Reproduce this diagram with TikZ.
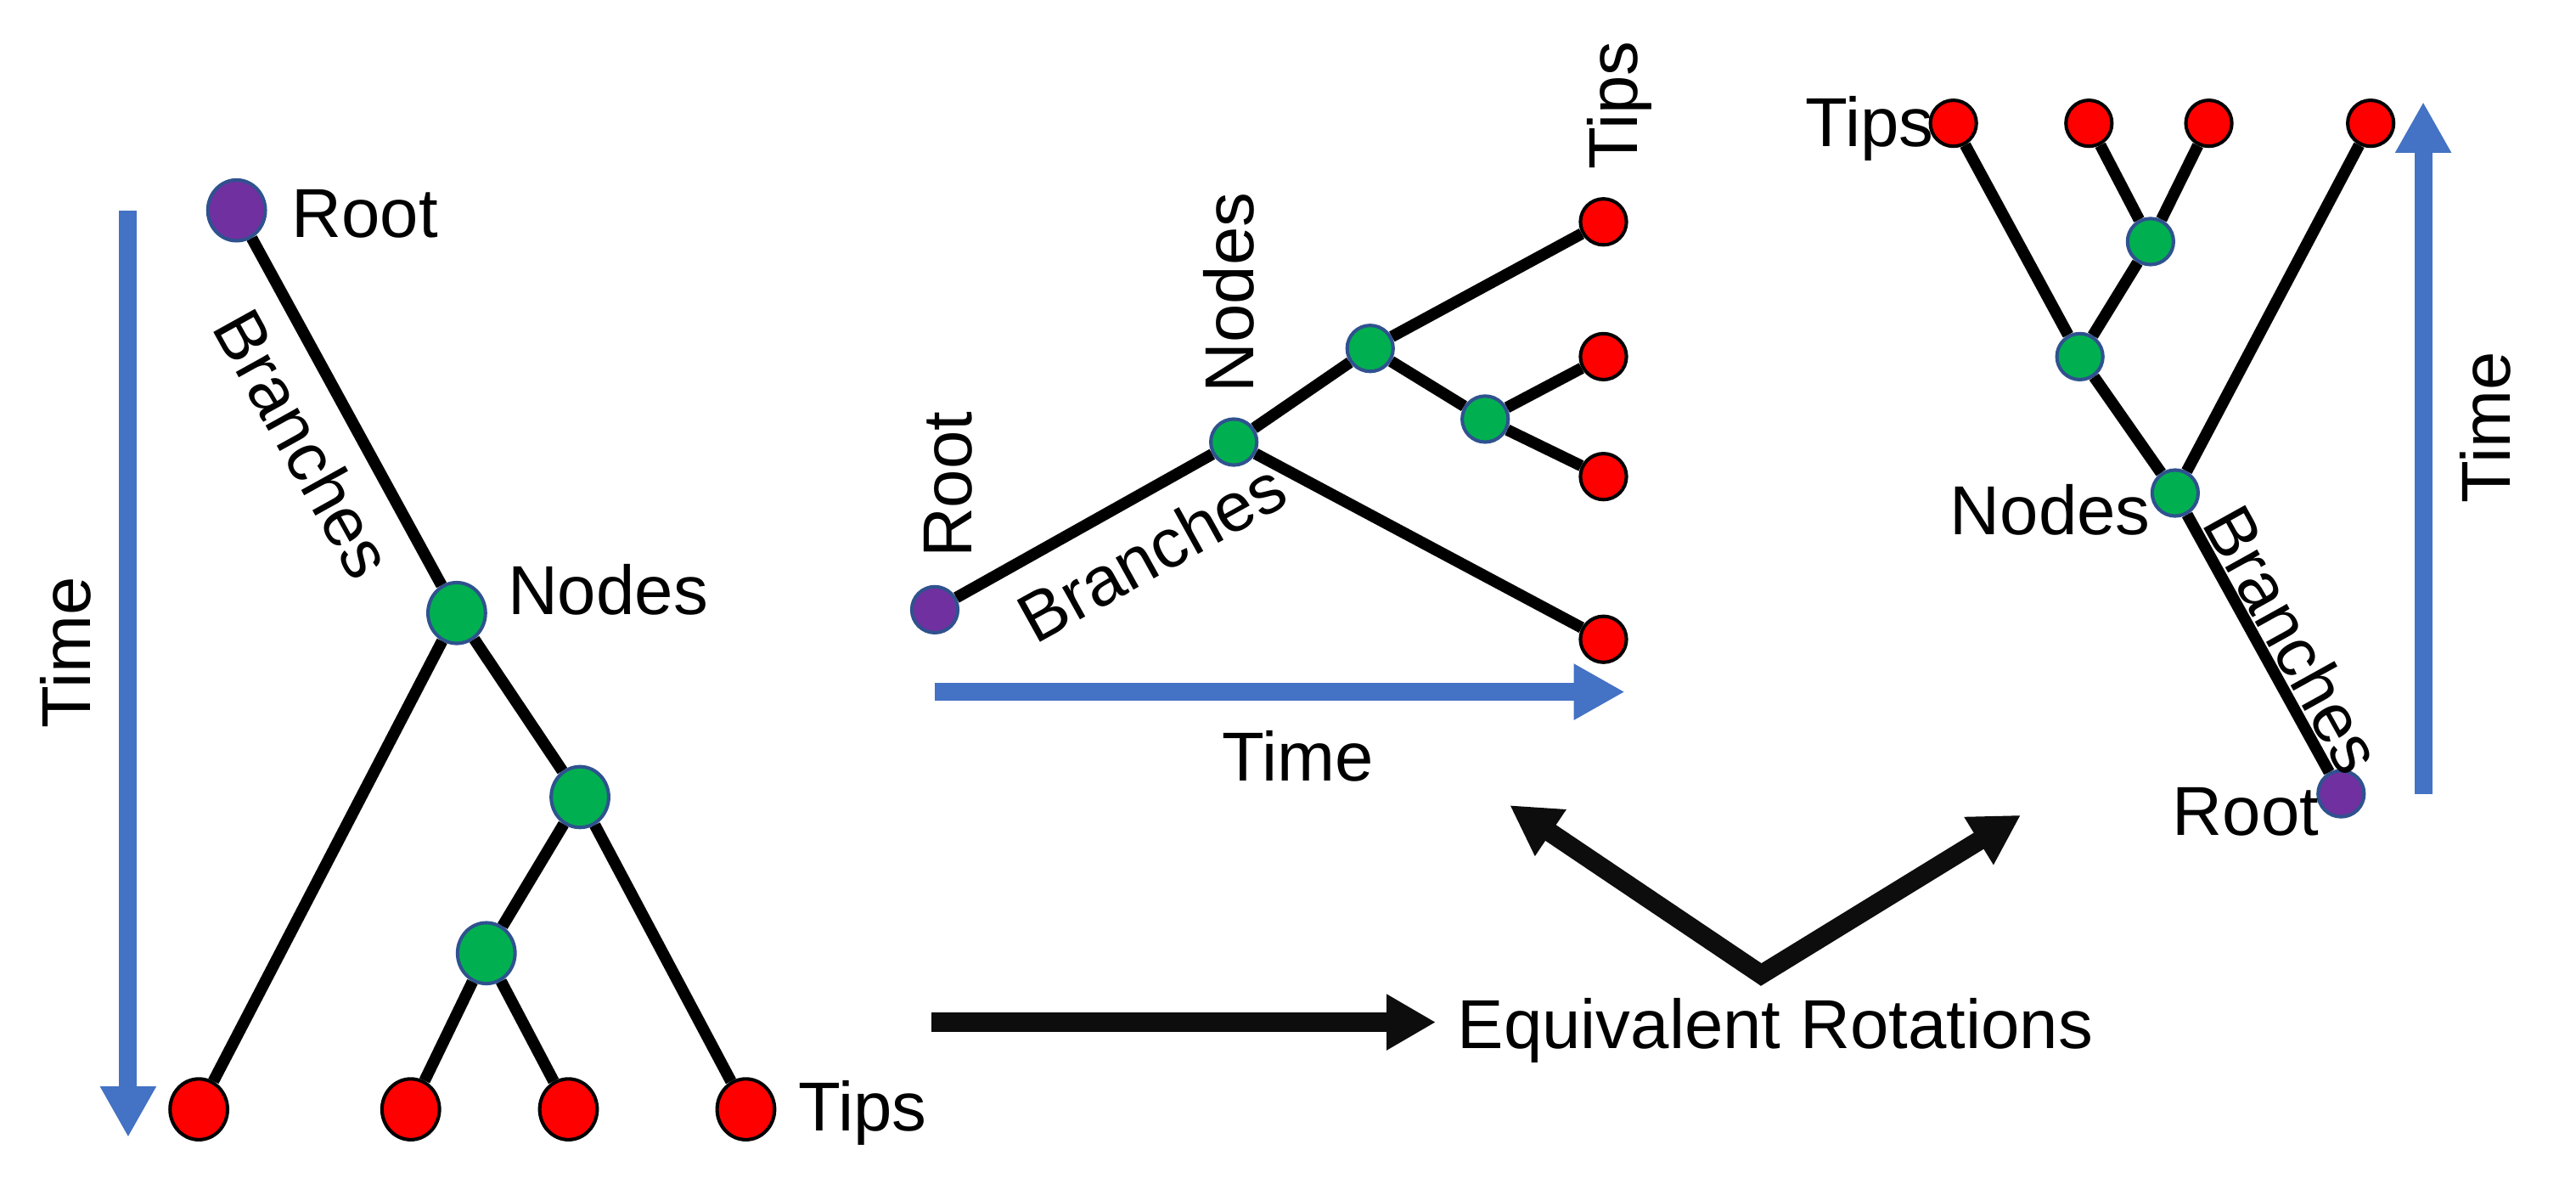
\documentclass[tikz,border=0pt]{standalone}
\usepackage{fontspec}
\setmainfont{Liberation Sans}
\definecolor{TipRed}{RGB}{255,0,0}
\definecolor{SplitGreen}{RGB}{0,176,80}
\definecolor{RootPurple}{RGB}{112,48,160}
\definecolor{RimBlue}{RGB}{47,82,143}
\definecolor{TimeBlue}{RGB}{68,114,196}
\usepackage{tikz}
\usetikzlibrary{shapes,arrows.meta,positioning}

\begin{document}
\begin{tikzpicture}[x=0.02cm, y=-0.02cm,
    every node/.style={font=\fontsize{24}{28}\selectfont},
    branch/.style={line width=4pt},
    bigdot/.style={ellipse, line width=1.2pt, inner sep=0pt, minimum width=0.7cm, minimum height=0.74cm},
    smalldot/.style={circle, line width=1.2pt, inner sep=0pt, minimum size=0.56cm},
    tipdot/.style={fill=TipRed, draw=black},
    splitdot/.style={fill=SplitGreen, draw=RimBlue},
    rootdot/.style={fill=RootPurple, draw=RimBlue},
    timeline/.style={TimeBlue, line width=6.2pt, -{Triangle[length=0.62cm, width=0.64cm]}},
    turn/.style={black!95, line width=6.6pt, -{Triangle[length=0.6cm, width=0.64cm]}}]
    \useasboundingbox (0,0) rectangle (1568,727);

    % Left tree, time runs down
    \node[bigdot, rootdot] (lroot) at (144,128) {};
    \node[bigdot, splitdot] (ln1) at (278,373) {};
    \node[bigdot, splitdot] (ln2) at (353,485) {};
    \node[bigdot, splitdot] (ln3) at (296,580) {};
    \node[bigdot, tipdot] (lt1) at (121,675) {};
    \node[bigdot, tipdot] (lt2) at (250,675) {};
    \node[bigdot, tipdot] (lt3) at (346,675) {};
    \node[bigdot, tipdot] (lt4) at (454,675) {};

    \draw[branch] (lroot) -- (ln1);
    \draw[branch] (ln1) -- (lt1);
    \draw[branch] (ln1) -- (ln2);
    \draw[branch] (ln2) -- (ln3);
    \draw[branch] (ln2) -- (lt4);
    \draw[branch] (ln3) -- (lt2);
    \draw[branch] (ln3) -- (lt3);

    \coordinate (ltimetop) at (78,128);
    \coordinate (ltimeend) at (78,692);
    \draw[timeline] (ltimetop) -- (ltimeend);

    % Labels
    \node (lrootlbl) at (222,130) {Root};
    \node (lnodelbl) at (370,359) {Nodes};
    \node (ltiplbl) at (525,677) {Tips};
    \node[rotate=-61] (lbranchlbl) at (185,270) {Branches};
    \node[rotate=90] (ltimelbl) at (40,397) {Time};

    % Middle tree, time runs right
    \node[smalldot, rootdot] (mroot) at (569,371) {};
    \node[smalldot, splitdot] (mn1) at (751,269) {};
    \node[smalldot, splitdot] (mn2) at (834,212) {};
    \node[smalldot, splitdot] (mn3) at (904,255) {};
    \node[smalldot, tipdot] (mt1) at (976,135) {};
    \node[smalldot, tipdot] (mt2) at (976,217) {};
    \node[smalldot, tipdot] (mt3) at (976,290) {};
    \node[smalldot, tipdot] (mt4) at (976,389) {};

    \draw[branch] (mroot) -- (mn1);
    \draw[branch] (mn1) -- (mn2);
    \draw[branch] (mn1) -- (mt4);
    \draw[branch] (mn2) -- (mt1);
    \draw[branch] (mn2) -- (mn3);
    \draw[branch] (mn3) -- (mt2);
    \draw[branch] (mn3) -- (mt3);

    \coordinate (mtimestart) at (569,421);
    \coordinate (mtimeend) at (989,421);
    \draw[timeline] (mtimestart) -- (mtimeend);

    % Labels
    \node[rotate=90] (mrootlbl) at (577,295) {Root};
    \node[rotate=90] (mnodelbl) at (748,178) {Nodes};
    \node[rotate=90] (mtiplbl) at (986,64) {Tips};
    \node[rotate=29] (mbranchlbl) at (701,336) {Branches};
    \node (mtimelbl) at (790,460) {Time};

    % Right tree, time runs up
    \node[smalldot, rootdot] (rroot) at (1425,483) {};
    \node[smalldot, splitdot] (rn1) at (1324,300) {};
    \node[smalldot, splitdot] (rn2) at (1266,217) {};
    \node[smalldot, splitdot] (rn3) at (1309,147) {};
    \node[smalldot, tipdot] (rt1) at (1189,75) {};
    \node[smalldot, tipdot] (rt2) at (1271.5,75) {};
    \node[smalldot, tipdot] (rt3) at (1344.5,75) {};
    \node[smalldot, tipdot] (rt4) at (1443,75) {};

    \draw[branch] (rroot) -- (rn1);
    \draw[branch] (rn1) -- (rn2);
    \draw[branch] (rn1) -- (rt4);
    \draw[branch] (rn2) -- (rt1);
    \draw[branch] (rn2) -- (rn3);
    \draw[branch] (rn3) -- (rt2);
    \draw[branch] (rn3) -- (rt3);

    \coordinate (rtimestart) at (1475,483);
    \coordinate (rtimeend) at (1475,62);
    \draw[timeline] (rtimestart) -- (rtimeend);

    % Labels
    \node (rtiplbl) at (1138,78) {Tips};
    \node (rnodelbl) at (1248,310) {Nodes};
    \node[rotate=-61] (rbranchlbl) at (1396,389) {Branches};
    \node (rrootlbl) at (1367,494) {Root};
    \node[rotate=90] (rtimelbl) at (1513,260) {Time};

    % Rotation arrows
    \node[anchor=west] (eqrot) at (881,627) {Equivalent Rotations};
    \coordinate (hstart) at (567,622);
    \draw[turn, shorten >=0.14cm] (hstart) -- (hstart -| eqrot.west);

    \coordinate (vtx) at (1072,593);
    \coordinate (vleft) at (919,490);
    \coordinate (vright) at (1230,496);
    \draw[turn, {Triangle[length=0.6cm, width=0.64cm]}-{Triangle[length=0.6cm, width=0.64cm]}, line join=miter] (vleft) -- (vtx) -- (vright);
\end{tikzpicture}
\end{document}
